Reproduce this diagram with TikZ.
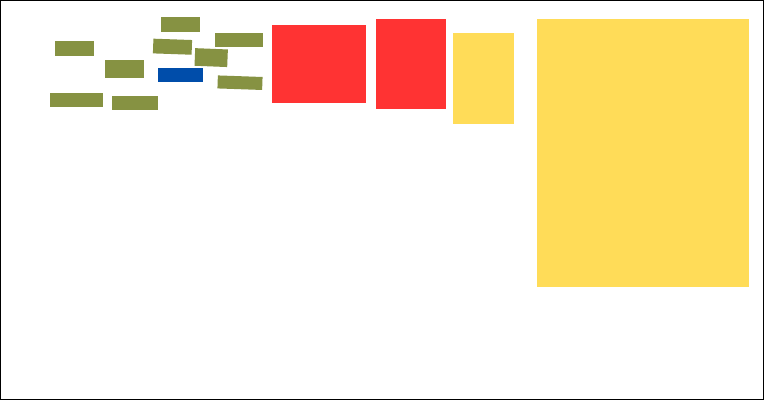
\documentclass[tikz,border=0pt]{standalone}
\definecolor{olivebox}{RGB}{134,146,66}
\definecolor{redbox}{RGB}{255,51,51}
\definecolor{yellowbox}{RGB}{255,220,88}
\definecolor{bluebox}{RGB}{0,77,170}
\begin{document}
\begin{tikzpicture}[x=1pt,y=-1pt,
  blk/.style={draw=none,inner sep=0pt,outer sep=0pt,rectangle},
  olv/.style={blk,fill=olivebox},
  blu/.style={blk,fill=bluebox}]
\useasboundingbox (0,0) rectangle (764,400);
\fill[white] (0,0) rectangle (764,400);
% small olive boxes
\node[olv,minimum width=39pt,minimum height=14.7pt] (a) at (74.8,48.3) {};
\node[olv,minimum width=39.3pt,minimum height=15.3pt] (b) at (180.7,24.3) {};
\node[olv,minimum width=38.7pt,minimum height=14.7pt,rotate=-2] (c) at (172.5,46.7) {};
\node[olv,minimum width=48pt,minimum height=14.7pt] (d) at (238.7,40) {};
\node[olv,minimum width=32.7pt,minimum height=17.6pt,rotate=-2.3] (e) at (211.2,57.6) {};
\node[olv,minimum width=38.4pt,minimum height=17.7pt] (f) at (124.5,68.8) {};
\node[blu,minimum width=45.3pt,minimum height=14pt] (bl) at (180.7,75) {};
\node[olv,minimum width=44.7pt,minimum height=13pt,rotate=-2] (g) at (240,82.7) {};
\node[olv,minimum width=52.7pt,minimum height=14pt] (h) at (76.3,99.7) {};
\node[olv,minimum width=45.7pt,minimum height=14.3pt] (i) at (134.8,102.8) {};
% large boxes
\fill[redbox] (272,25) rectangle (366,102.7);
\fill[redbox] (375.7,19) rectangle (446,108.7);
\fill[yellowbox] (453,33) rectangle (514.3,123.7);
\fill[yellowbox] (537,19) rectangle (749,286.7);
% frame
\draw[black,line width=1pt] (0.5,0.5) rectangle (763.5,399.5);
\end{tikzpicture}
\end{document}
